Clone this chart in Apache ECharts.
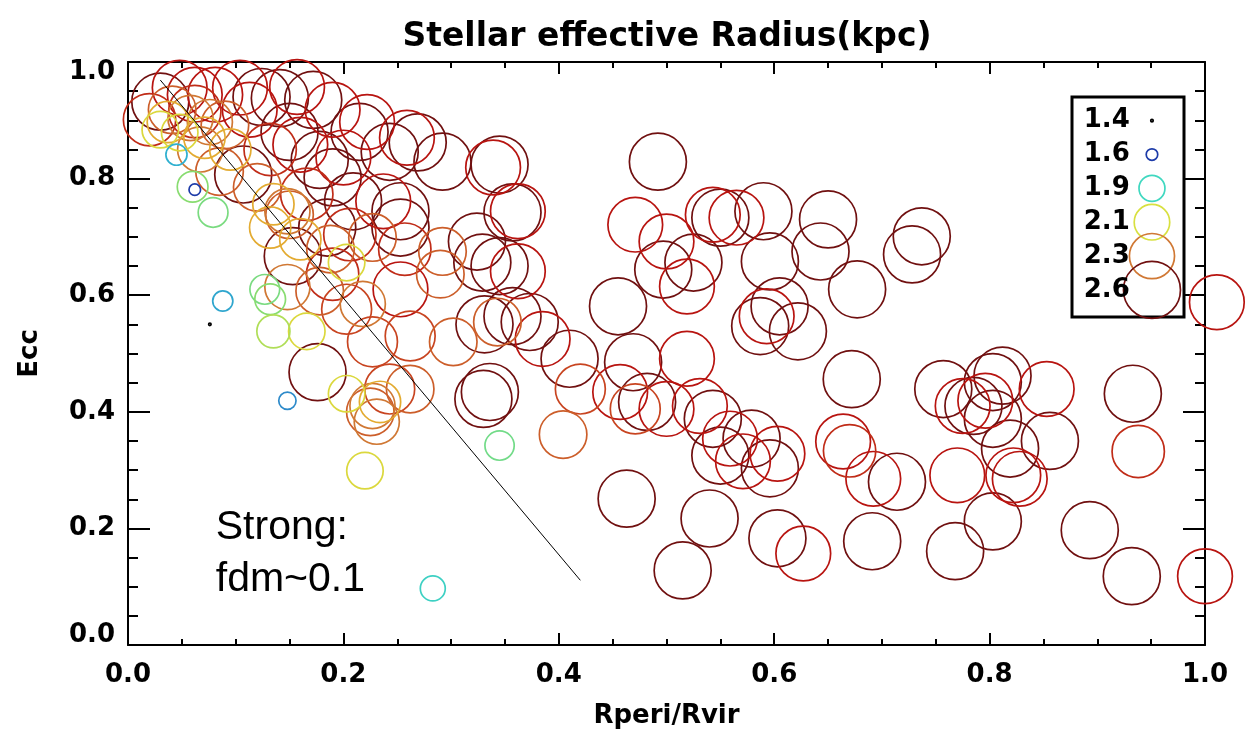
<!DOCTYPE html>
<html>
<head>
<meta charset="utf-8">
<script src="https://cdn.jsdelivr.net/npm/echarts@6.0.0/dist/echarts.min.js"></script>
<style>
  html, body { margin: 0; background: #fff; }
  #chart { width: 1255px; height: 734px; }
</style>
</head>
<body>
<div id="chart"></div>
<script>
  // points are [Rperi/Rvir, Ecc], grouped by stellar effective radius (kpc)
  const ecc26 = [
    [0.030, 0.932], [0.124, 0.940], [0.107, 0.807], [0.141, 0.938], [0.172, 0.935], [0.215, 0.880],
    [0.243, 0.846], [0.190, 0.802], [0.209, 0.761], [0.185, 0.716], [0.253, 0.716], [0.269, 0.862],
    [0.292, 0.829], [0.345, 0.824], [0.357, 0.742], [0.324, 0.692], [0.253, 0.744], [0.345, 0.650],
    [0.329, 0.656], [0.153, 0.667], [0.176, 0.468], [0.331, 0.550], [0.357, 0.564], [0.373, 0.554],
    [0.336, 0.434], [0.330, 0.422], [0.410, 0.491], [0.492, 0.829], [0.550, 0.733], [0.590, 0.744],
    [0.650, 0.730], [0.643, 0.675], [0.737, 0.701], [0.728, 0.670], [0.455, 0.581], [0.497, 0.644],
    [0.525, 0.656], [0.596, 0.658], [0.605, 0.581], [0.587, 0.547], [0.622, 0.538], [0.677, 0.610],
    [0.672, 0.456], [0.469, 0.485], [0.482, 0.417], [0.543, 0.388], [0.550, 0.325], [0.596, 0.303],
    [0.579, 0.354], [0.540, 0.217], [0.463, 0.251], [0.515, 0.128], [0.603, 0.183], [0.714, 0.280],
    [0.691, 0.178], [0.768, 0.161], [0.757, 0.439], [0.785, 0.410], [0.803, 0.451], [0.803, 0.388],
    [0.812, 0.462], [0.819, 0.337], [0.803, 0.212], [0.856, 0.350], [0.893, 0.197], [0.933, 0.431],
    [0.932, 0.118], [0.150, 0.880], [0.178, 0.832]
  ]
  const ecc25 = [
    [0.048, 0.956], [0.062, 0.944], [0.104, 0.956], [0.113, 0.918], [0.157, 0.957], [0.190, 0.918],
    [0.222, 0.897], [0.259, 0.870], [0.200, 0.836], [0.237, 0.761], [0.339, 0.819], [0.362, 0.744],
    [0.362, 0.641], [0.253, 0.610], [0.385, 0.525], [0.471, 0.721], [0.500, 0.692], [0.543, 0.738],
    [0.565, 0.733], [0.519, 0.615], [0.593, 0.564], [0.457, 0.434], [0.500, 0.405], [0.519, 0.491],
    [0.531, 0.410], [0.571, 0.315], [0.603, 0.328], [0.559, 0.354], [0.627, 0.157], [0.664, 0.349],
    [0.692, 0.285], [0.770, 0.291], [0.775, 0.410], [0.796, 0.419], [0.822, 0.291], [0.828, 0.285],
    [0.853, 0.439], [1.000, 0.118], [1.011, 0.588], [0.081, 0.944], [0.160, 0.858]
  ]
  const ecc245 = [
    [0.166, 0.773], [0.257, 0.679], [0.190, 0.636], [0.670, 0.333], [0.938, 0.332], [0.020, 0.901],
    [0.062, 0.915], [0.132, 0.850], [0.206, 0.704]
  ]
  const ecc24 = [
    [0.203, 0.576], [0.227, 0.520], [0.243, 0.439], [0.262, 0.530], [0.420, 0.439], [0.471, 0.405]
  ]
  const ecc235 = [
    [0.041, 0.918], [0.120, 0.785], [0.090, 0.892], [0.292, 0.675], [0.227, 0.699], [0.290, 0.636],
    [0.178, 0.607], [0.225, 0.400], [0.404, 0.361], [0.302, 0.520], [0.262, 0.439], [0.343, 0.554],
    [0.085, 0.812], [0.150, 0.738], [0.188, 0.679]
  ]
  const ecc23 = [
    [0.058, 0.904], [0.076, 0.897], [0.148, 0.744], [0.148, 0.614], [0.218, 0.585], [0.227, 0.410],
    [0.231, 0.383], [0.067, 0.850]
  ]
  const ecc222 = [
    [0.037, 0.897], [0.071, 0.870], [0.135, 0.756], [0.132, 0.716], [0.095, 0.850], [0.234, 0.417],
    [0.160, 0.696]
  ]
  const ecc212 = [
    [0.048, 0.879], [0.030, 0.884], [0.166, 0.538], [0.203, 0.656], [0.203, 0.431], [0.220, 0.299]
  ]
  // the small ones: [Rperi/Rvir, Ecc, radius]
  const smallOnes = [
    [0.045, 0.841, 1.80], [0.060, 0.786, 2.00], [0.062, 0.781, 1.60], [0.079, 0.742, 1.98],
    [0.127, 0.610, 1.98], [0.132, 0.593, 2.00], [0.135, 0.538, 2.05], [0.148, 0.419, 1.72],
    [0.088, 0.590, 1.78], [0.076, 0.550, 1.40], [0.283, 0.097, 1.88], [0.345, 0.342, 1.97]
  ]
  const radiusGroups = [
    [2.6, ecc26], [2.5, ecc25], [2.45, ecc245], [2.4, ecc24], [2.35, ecc235],
    [2.3, ecc23], [2.22, ecc222], [2.12, ecc212]
  ]

  const legendRadii = [1.4, 1.6, 1.9, 2.1, 2.3, 2.6]
  const legendLabels = ['1.4', '1.6', '1.9', '2.1', '2.3', '2.6']
  const diagLine = [[0.030, 0.969], [0.420, 0.111]]
  const notePos = [0.081, 0.156]
  const noteText = 'Strong:\nfdm~0.1'

  // colour table, radius 1.4 .. 2.7 in steps of 0.1
  const cmap = ['#000000', '#0c1c58', '#1c3aa8', '#2c80c8', '#30b0d0', '#40d8c0', '#88dc70',
    '#d8e040', '#e8b830', '#d07834', '#c84420', '#b81410', '#701010', '#580a0a']

  function radiusColor (r) {
    return echarts.color.lerp(Math.max(0, Math.min(1, (r - 1.4) / 1.3)), cmap)
  }
  function radiusSize (r) {
    return Math.max(2.5, Math.min(57, 48 * (r - 1.36)))
  }
  function ring (value, r) {
    return {
      value: value,
      symbolSize: radiusSize(r),
      itemStyle: { color: 'rgba(0,0,0,0)', borderColor: radiusColor(r), borderWidth: 1.7, opacity: 1 }
    }
  }

  const points = []
  radiusGroups.forEach(function (g) {
    g[1].forEach(function (p) { points.push(ring([p[0], p[1], g[0]], g[0])) })
  })
  smallOnes.forEach(function (p) { points.push(ring(p, p[2])) })

  const font = 'DejaVu Sans'
  const tickFont = { fontFamily: font, fontWeight: 'bold', fontSize: 26, color: '#000' }
  const black = { color: '#000', width: 2 }

  const chart = echarts.init(document.getElementById('chart'))
  chart.setOption({
    animation: false,
    backgroundColor: '#fff',
    title: {
      text: 'Stellar effective Radius(kpc)',
      left: 662,
      top: 16,
      textAlign: 'center',
      textStyle: { fontFamily: font, fontWeight: 'bold', fontSize: 33, color: '#000' }
    },
    grid: [
      { left: 128, right: 50, top: 62, bottom: 87 },
      { left: 1072, top: 97, width: 112, height: 220, show: true, borderColor: '#000', borderWidth: 3, backgroundColor: 'rgba(0,0,0,0)' }
    ],
    xAxis: [
      {
        type: 'value', gridIndex: 0, min: 0, max: 1, interval: 0.2,
        name: 'Rperi/Rvir', nameLocation: 'middle', nameGap: 58,
        nameTextStyle: { fontFamily: font, fontWeight: 'bold', fontSize: 26, color: '#000' },
        axisLine: { show: true, onZero: false, lineStyle: black },
        axisTick: { show: true, inside: true, length: 12, lineStyle: black },
        minorTick: { show: true, splitNumber: 4, length: 6, lineStyle: black },
        axisLabel: Object.assign({ margin: 17, formatter: function (v) { return v.toFixed(1) } }, tickFont),
        splitLine: { show: false }
      },
      {
        type: 'value', gridIndex: 0, position: 'top', min: 0, max: 1, interval: 0.2,
        axisLine: { show: true, onZero: false, lineStyle: black },
        axisTick: { show: true, inside: true, length: 12, lineStyle: black },
        minorTick: { show: true, splitNumber: 4, length: 6, lineStyle: black },
        axisLabel: { show: false },
        splitLine: { show: false }
      },
      { type: 'value', gridIndex: 1, min: 0, max: 1, show: false }
    ],
    yAxis: [
      {
        type: 'value', gridIndex: 0, min: 0, max: 1, interval: 0.2,
        name: 'Ecc', nameLocation: 'middle', nameGap: 85, nameRotate: 90,
        nameTextStyle: { fontFamily: font, fontWeight: 'bold', fontSize: 26, color: '#000' },
        axisLine: { show: true, onZero: false, lineStyle: black },
        axisTick: { show: true, inside: true, length: 22, lineStyle: black },
        minorTick: { show: true, splitNumber: 4, length: 10, lineStyle: black },
        axisLabel: Object.assign({
          margin: 13,
          formatter: function (v) {
            if (v === 1) return '{hi|1.0}'
            if (v === 0) return '{lo|0.0}'
            return v.toFixed(1)
          },
          rich: {
            hi: Object.assign({ padding: [20, 0, 0, 0] }, tickFont),
            lo: Object.assign({ padding: [0, 0, 20, 0] }, tickFont)
          }
        }, tickFont),
        splitLine: { show: false }
      },
      {
        type: 'value', gridIndex: 0, position: 'right', min: 0, max: 1, interval: 0.2,
        axisLine: { show: true, onZero: false, lineStyle: black },
        axisTick: { show: true, inside: true, length: 22, lineStyle: black },
        minorTick: { show: true, splitNumber: 4, length: 10, lineStyle: black },
        axisLabel: { show: false },
        splitLine: { show: false }
      },
      { type: 'value', gridIndex: 1, min: -0.7, max: 5.8, inverse: true, show: false }
    ],
    series: [
      {
        name: 'galaxies',
        type: 'scatter',
        xAxisIndex: 0,
        yAxisIndex: 0,
        symbol: 'circle',
        clip: false,
        silent: true,
        itemStyle: { opacity: 1 },
        data: points
      },
      {
        name: 'diag',
        type: 'line',
        xAxisIndex: 0,
        yAxisIndex: 0,
        symbol: 'none',
        silent: true,
        z: 5,
        lineStyle: { color: '#000', width: 1 },
        data: diagLine
      },
      {
        name: 'note',
        type: 'scatter',
        xAxisIndex: 0,
        yAxisIndex: 0,
        symbolSize: 1,
        silent: true,
        itemStyle: { color: 'rgba(0,0,0,0)', opacity: 1 },
        label: {
          show: true, position: 'right', distance: 0, formatter: noteText,
          fontFamily: 'Liberation Sans', fontSize: 41, lineHeight: 52, color: '#000'
        },
        data: [notePos]
      },
      {
        name: 'legendRings',
        type: 'scatter',
        xAxisIndex: 2,
        yAxisIndex: 2,
        clip: false,
        silent: true,
        z: 6,
        itemStyle: { opacity: 1 },
        data: legendRadii.map(function (r, i) { return ring([0.714, i, r], r) })
      },
      {
        name: 'legendText',
        type: 'scatter',
        xAxisIndex: 2,
        yAxisIndex: 2,
        symbolSize: 1,
        silent: true,
        z: 6,
        itemStyle: { color: 'rgba(0,0,0,0)', opacity: 1 },
        label: Object.assign({
          show: true, position: 'left', distance: 0,
          formatter: function (p) { return legendLabels[p.dataIndex] }
        }, tickFont),
        data: legendLabels.map(function (t, i) { return [0.52, i] })
      }
    ]
  })
</script>
</body>
</html>
